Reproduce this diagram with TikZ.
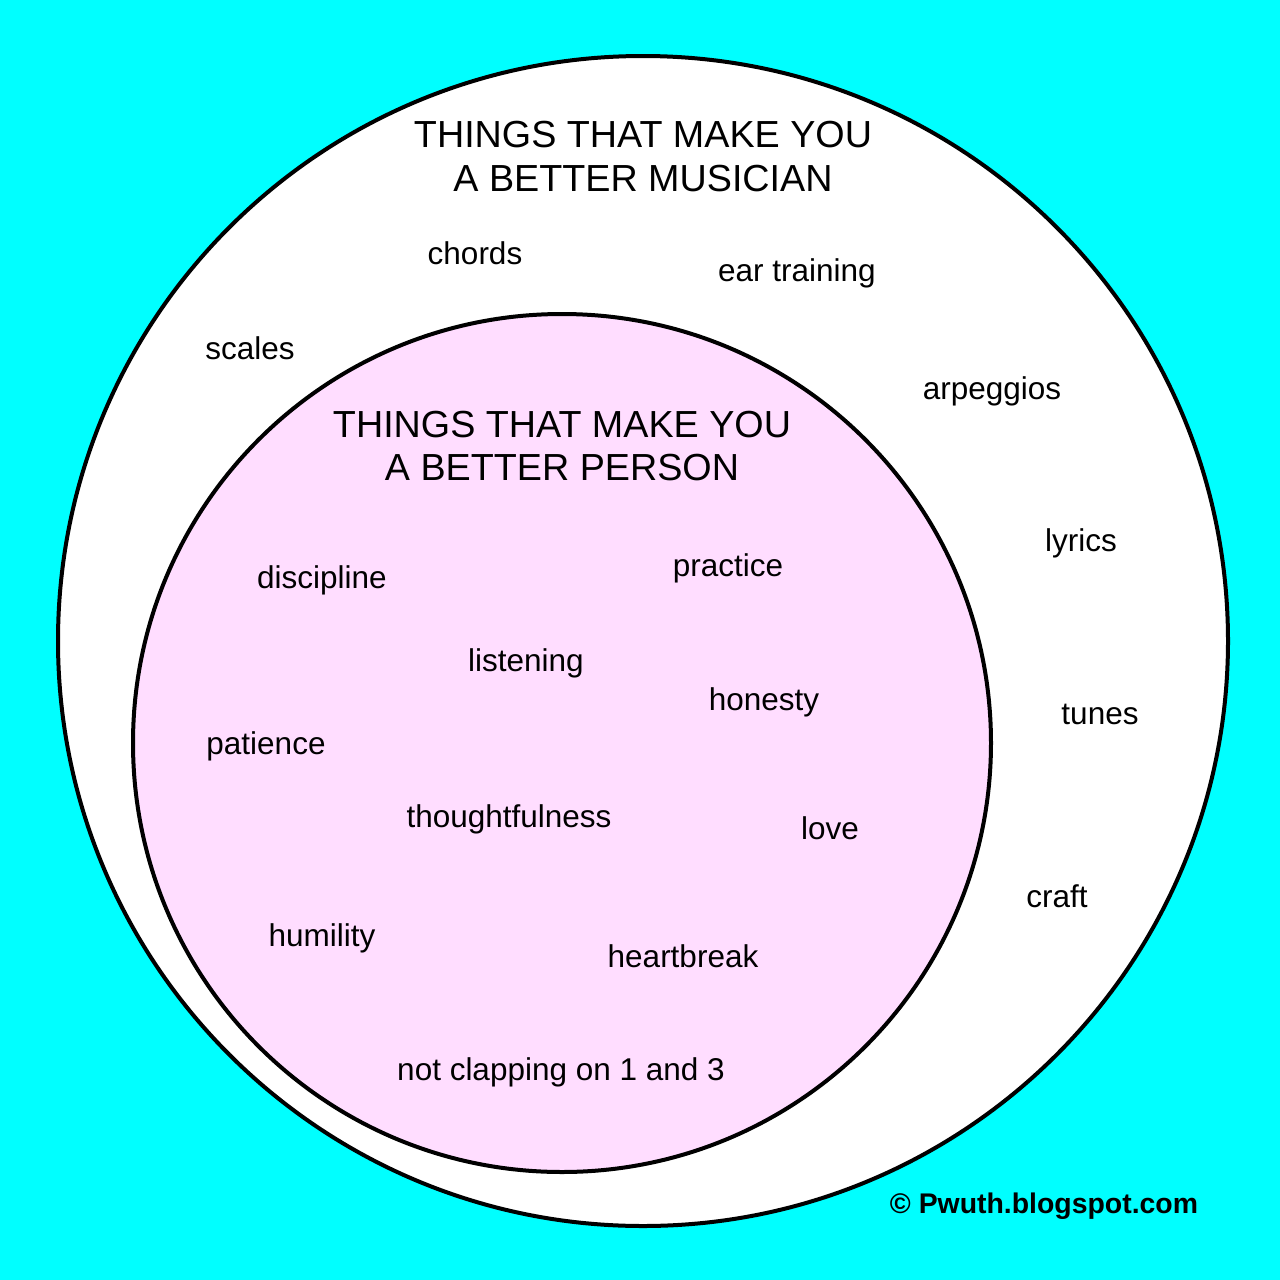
\documentclass[tikz,border=0pt]{standalone}
\usepackage{fontspec}
\setmainfont{Liberation Sans}
\definecolor{bgcyan}{RGB}{0,255,255}
\definecolor{pinkfill}{RGB}{255,221,255}
\begin{document}
\begin{tikzpicture}[x=1pt,y=-1pt,
  ring/.style={draw=black,line width=4pt},
  item/.style={anchor=base,inner sep=0pt,font=\fontsize{31.5}{36}\selectfont},
  ttl/.style={anchor=base,inner sep=0pt,font=\fontsize{37.7}{44}\selectfont},
  copy/.style={anchor=base,inner sep=0pt,font=\fontsize{28.4}{32}\selectfont\bfseries}]
\fill[bgcyan] (0,0) rectangle (1280,1280);
\useasboundingbox (0,0) rectangle (1280,1280);
\draw[ring,fill=white] (643,641) circle[radius=585];
\draw[ring,fill=pinkfill] (562,743) circle[radius=429];
% outer title
\node[ttl] (t1) at (643,147) {THINGS THAT MAKE YOU};
\node[ttl] (t2) at (643,191) {A BETTER MUSICIAN};
% inner title
\node[ttl] (p1) at (562,437) {THINGS THAT MAKE YOU};
\node[ttl] (p2) at (562,480) {A BETTER PERSON};
% outer items
\node[item] (chords) at (475,264) {chords};
\node[item] (ear) at (797,281) {ear training};
\node[item] (scales) at (250,359) {scales};
\node[item] (arp) at (992,399) {arpeggios};
\node[item] (lyrics) at (1081,551) {lyrics};
\node[item] (tunes) at (1100,724) {tunes};
\node[item] (craft) at (1057,907) {craft};
% inner items
\node[item] (disc) at (322,588) {discipline};
\node[item] (prac) at (728,576) {practice};
\node[item] (list) at (526,671) {listening};
\node[item] (hon) at (764,710) {honesty};
\node[item] (pat) at (266,754) {patience};
\node[item] (thou) at (509,827) {thoughtfulness};
\node[item] (love) at (830,839) {love};
\node[item] (hum) at (322,946) {humility};
\node[item] (heart) at (683,967) {heartbreak};
\node[item] (clap) at (561,1080) {not clapping on 1 and 3};
\node[copy] (cr) at (1044,1213) {© Pwuth.blogspot.com};
\end{tikzpicture}
\end{document}
